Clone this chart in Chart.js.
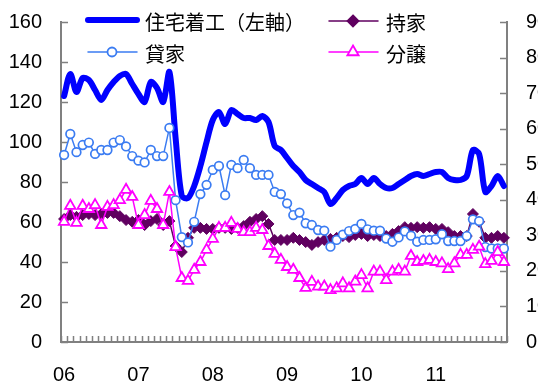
<!DOCTYPE html>
<html lang="ja">
<head>
<meta charset="utf-8">
<script src="https://cdn.jsdelivr.net/npm/chart.js@4/dist/chart.umd.min.js"></script>
<style>
html, body { margin: 0; padding: 0; background: #fff; }
#wrap { width: 538px; height: 385px; overflow: hidden; position: relative; }
canvas { display: block; }
</style>
</head>
<body>
<div id="wrap"><canvas id="c" width="570" height="385"></canvas></div>
<script>
// Year labels on the x axis (one per January)
const years = ['06', '07', '08', '09', '10', '11'];
const monthNames = ['01','02','03','04','05','06','07','08','09','10','11','12'];
const categories = years.flatMap(y => monthNames.map(m => '20' + y + '-' + m));

// 住宅着工 (left axis, 万戸 annual rate)
const starts = [
  123,134,125,132,131,126,121,126,130,133,134,129,
  124,120,130,127,120,135,102,73,72,78,88,100,
  111,115,109,116,114,112,112,111,113,110,98,96,
  92,88,85,81,79,77,75,69,72,76,78,79,
  82,79,82,79,77,77,79,81,83,84,83,84,
  85,85,82,81,81,83,96,94,75,78,83,78
];
// 持家 (right axis)
const ownerOccupied = [
  34.6,35.7,35.2,35.7,36.0,35.7,36.0,36.3,36.3,35.4,34.3,33.8,
  34.3,32.9,34.0,34.6,32.9,34.0,27.0,25.3,29.3,32.1,32.1,31.8,
  31.8,32.1,32.1,31.8,32.1,32.6,33.8,34.6,35.4,33.2,28.7,28.7,
  28.7,29.3,28.7,28.1,27.3,28.1,28.7,29.0,29.3,29.8,29.5,30.1,
  30.4,29.8,30.1,29.8,29.8,30.4,31.2,32.3,32.1,32.3,32.1,32.3,
  31.8,31.8,30.9,29.8,29.8,29.8,36.0,33.8,29.3,29.3,29.8,29.3
];
// 貸家 (right axis)
const rental = [
  52.6,58.5,53.4,55.4,56.1,52.9,54.0,54.0,56.1,56.8,55.0,52.3,
  51.0,50.5,54.0,52.3,52.3,60.2,39.9,29.5,28.0,33.8,41.6,44.2,
  48.4,49.5,41.3,49.8,48.9,51.2,48.9,47.0,47.0,47.0,42.2,41.6,
  39.0,35.7,36.4,33.4,32.9,31.5,31.3,26.8,28.7,30.2,31.2,31.8,
  33.2,31.7,31.3,31.3,29.1,28.2,29.4,31.1,29.9,28.2,28.7,28.7,
  28.9,30.3,28.4,28.4,28.4,29.8,34.5,34.0,26.7,26.3,26.3,26.3
];
// 分譲 (right axis)
const forSale = [
  33.8,38.3,33.5,38.3,37.4,38.5,32.9,38.0,38.5,39.9,42.8,40.8,
  32.9,35.7,39.7,37.4,32.9,42.2,26.7,18.0,17.2,20.3,22.5,25.9,
  29.0,32.1,32.1,33.5,31.8,30.9,30.9,32.1,31.5,27.0,24.8,23.1,
  21.1,20.3,18.0,15.2,16.9,15.6,15.6,14.6,15.1,16.5,15.1,17.0,
  18.8,15.1,19.8,19.8,17.4,19.8,20.3,19.8,24.2,22.5,22.8,23.1,
  22.5,22.1,20.5,22.1,24.5,24.5,25.9,26.8,21.9,22.8,25.3,22.5
];

const NUM_FONT = "'Liberation Sans',Arial,sans-serif";
const JP_FONT = "'Noto Sans CJK JP','Noto Sans CJK SC',sans-serif";
const AXIS_GRAY = '#808080';

const C_STARTS = '#0000ff';
const C_RENTAL = '#3b7cf2';
const C_OWNER = '#600060';
const C_SALE = '#ff00ff';

// short tick marks pointing into the plot area
const innerTicks = {
  id: 'innerTicks',
  beforeDatasetsDraw(chart) {
    const ctx = chart.ctx;
    const { left, right, bottom } = chart.chartArea;
    const yl = chart.scales.yLeft, yr = chart.scales.yRight, x = chart.scales.x;
    ctx.save();
    ctx.strokeStyle = AXIS_GRAY;
    ctx.lineWidth = 1.5;
    ctx.beginPath();
    yl.ticks.forEach(t => {
      const py = Math.round(yl.getPixelForValue(t.value)) + 0.5;
      ctx.moveTo(left, py); ctx.lineTo(left + 7, py);
    });
    yr.ticks.forEach(t => {
      const py = Math.round(yr.getPixelForValue(t.value)) + 0.5;
      ctx.moveTo(right, py); ctx.lineTo(right - 7, py);
    });
    const n = categories.length;
    const step = x.getPixelForValue(1) - x.getPixelForValue(0);
    for (let i = 0; i <= n; i++) {
      const px = Math.round(x.getPixelForValue(0) - step / 2 + i * step) + 0.5;
      ctx.moveTo(px, bottom); ctx.lineTo(px, bottom - 6);
    }
    ctx.stroke();
    ctx.restore();
  }
};

function marker(ctx, style, x, y, r, fill, stroke, lw) {
  ctx.beginPath();
  if (style === 'circle') {
    ctx.arc(x, y, r, 0, Math.PI * 2);
  } else if (style === 'rectRot') {
    ctx.moveTo(x, y - r); ctx.lineTo(x + r, y); ctx.lineTo(x, y + r); ctx.lineTo(x - r, y);
    ctx.closePath();
  } else if (style === 'triangle') {
    ctx.moveTo(x, y - r);
    ctx.lineTo(x + 0.866 * r, y + 0.5 * r);
    ctx.lineTo(x - 0.866 * r, y + 0.5 * r);
    ctx.closePath();
  }
  ctx.fillStyle = fill; ctx.fill();
  ctx.lineWidth = lw; ctx.strokeStyle = stroke; ctx.stroke();
}

// two-column legend in the top of the plot
const legendEntries = [
  { text: '住宅着工（左軸）', x: 87, y: 20, color: C_STARTS, width: 6, style: null },
  { text: '持家', x: 328, y: 21, color: C_OWNER, width: 1.5, style: 'rectRot', r: 5.5, fill: C_OWNER },
  { text: '貸家', x: 87, y: 52, color: C_RENTAL, width: 1.5, style: 'circle', r: 4.5, fill: '#fff' },
  { text: '分譲', x: 328, y: 52, color: C_SALE, width: 1.5, style: 'triangle', r: 6.5, fill: '#fff' }
];
const insideLegend = {
  id: 'insideLegend',
  afterDraw(chart) {
    const ctx = chart.ctx;
    ctx.save();
    legendEntries.forEach(e => {
      ctx.strokeStyle = e.color;
      ctx.lineWidth = e.width;
      ctx.lineCap = 'round';
      ctx.beginPath();
      ctx.moveTo(e.x + 1, e.y); ctx.lineTo(e.x + 50, e.y);
      ctx.stroke();
      if (e.style) marker(ctx, e.style, e.x + 25, e.y, e.r, e.fill, e.color, 1.8);
      ctx.fillStyle = '#000';
      ctx.font = '20px ' + JP_FONT;
      ctx.textBaseline = 'middle';
      ctx.textAlign = 'left';
      ctx.fillText(e.text, e.x + 58, e.y + 2);
    });
    ctx.restore();
  }
};

const tickFont = { family: NUM_FONT, size: 20 };

// fixed axis band sizes so the plot spans x 61–507, y 22–342
function fixY(width) {
  return s => { s.width = width; s.paddingTop = 0; s.paddingBottom = 0; };
}

new Chart(document.getElementById('c'), {
  type: 'line',
  data: {
    labels: categories,
    datasets: [
      {
        label: '分譲', data: forSale, yAxisID: 'yRight', order: 1,
        borderColor: C_SALE, borderWidth: 1.5, tension: 0,
        pointStyle: 'triangle', pointRadius: 6, pointBorderWidth: 1.8,
        pointBackgroundColor: '#fff', pointBorderColor: C_SALE
      },
      {
        label: '貸家', data: rental, yAxisID: 'yRight', order: 2,
        borderColor: C_RENTAL, borderWidth: 1.5, tension: 0,
        pointStyle: 'circle', pointRadius: 4.3, pointBorderWidth: 1.7,
        pointBackgroundColor: '#fff', pointBorderColor: C_RENTAL
      },
      {
        label: '持家', data: ownerOccupied, yAxisID: 'yRight', order: 3,
        borderColor: C_OWNER, borderWidth: 1.5, tension: 0,
        pointStyle: 'rectRot', pointRadius: 5.5, pointBorderWidth: 1,
        pointBackgroundColor: C_OWNER, pointBorderColor: C_OWNER
      },
      {
        label: '住宅着工（左軸）', data: starts, yAxisID: 'yLeft', order: 4,
        borderColor: C_STARTS, borderWidth: 6, tension: 0.3,
        borderJoinStyle: 'round', borderCapStyle: 'round',
        pointRadius: 0
      }
    ]
  },
  options: {
    responsive: false,
    animation: false,
    devicePixelRatio: 1,
    layout: { padding: { top: 22, left: 0, right: 0, bottom: 0 } },
    plugins: { legend: { display: false }, tooltip: { enabled: false } },
    scales: {
      x: {
        type: 'category', offset: true,
        grid: { display: false, offset: true, drawTicks: false },
        border: { display: true, color: AXIS_GRAY, width: 2 },
        ticks: {
          autoSkip: false, maxRotation: 0, minRotation: 0, padding: 21,
          font: tickFont, color: '#000',
          callback: (v, i) => (i % 12 === 0 ? years[i / 12] : '')
        },
        afterFit: s => { s.height = 43; s.paddingLeft = 0; s.paddingRight = 0; }
      },
      yLeft: {
        position: 'left', min: 0, max: 160,
        grid: { display: false, drawTicks: false },
        border: { display: true, color: AXIS_GRAY, width: 2 },
        ticks: { stepSize: 20, padding: 19, font: tickFont, color: '#000' },
        afterFit: fixY(61)
      },
      yRight: {
        position: 'right', min: 0, max: 90,
        grid: { display: false, drawTicks: false },
        border: { display: true, color: AXIS_GRAY, width: 2 },
        ticks: { stepSize: 10, padding: 19, font: tickFont, color: '#000' },
        afterFit: fixY(63)
      }
    }
  },
  plugins: [innerTicks, insideLegend]
});
</script>
</body>
</html>
